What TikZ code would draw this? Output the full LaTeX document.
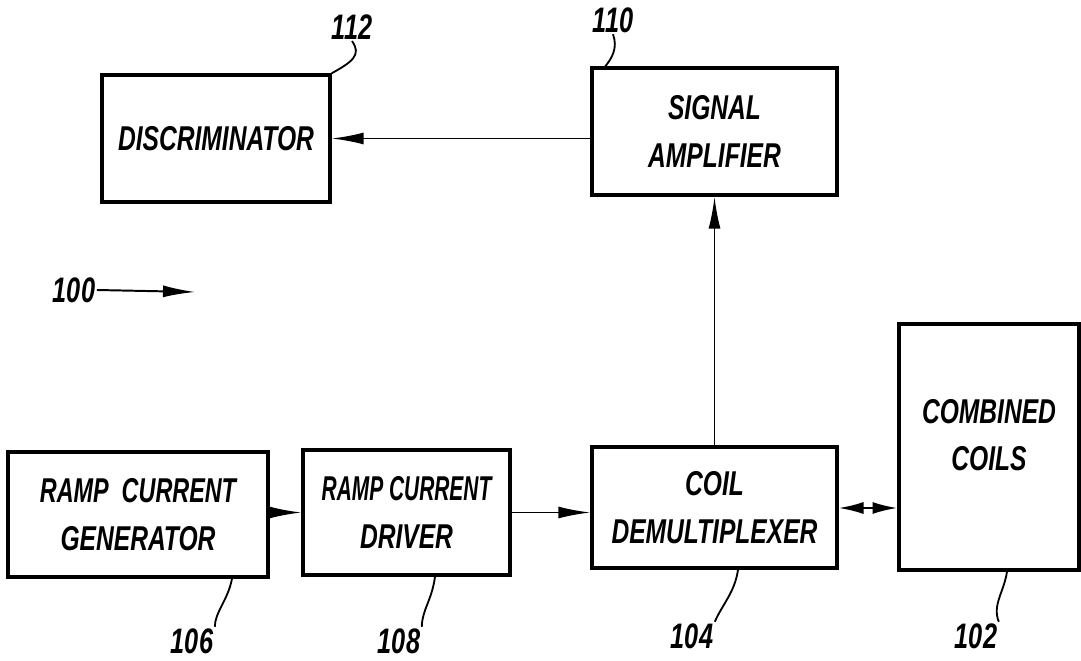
\documentclass[tikz,border=0pt]{standalone}
\usepackage{fontspec}
\setmainfont{Liberation Sans}
\usetikzlibrary{arrows.meta,calc}
\newcommand{\hw}[2][1]{\scalebox{#1}[1.4]{#2}}

\begin{document}
\begin{tikzpicture}[x=0.025cm, y=-0.025cm,
    >={Latex[length=8mm,width=3mm]},
    blk/.style={draw, line width=2.4pt, inner sep=0pt, align=center,
      font=\bfseries\itshape\fontsize{17.5}{34}\selectfont},
    num/.style={font=\bfseries\itshape\fontsize{18}{20}\selectfont, inner sep=1pt},
    lead/.style={line width=1.3pt},
    arr/.style={->, line width=1.4pt}]
  \useasboundingbox (0,0) rectangle (1081,661);
  \node[blk, minimum width=228*0.025cm, minimum height=127*0.025cm] (disc) at (216,138.5) {\hw{DISCRIMINATOR}};
  \node[blk, minimum width=245*0.025cm, minimum height=127*0.025cm] (amp) at (714.5,131.5) {\hw{SIGNAL}\\\hw{AMPLIFIER}};
  \node[blk, minimum width=260*0.025cm, minimum height=125*0.025cm] (gen) at (138,514.5) {\hw[0.95]{RAMP\ \ CURRENT}\\\hw{GENERATOR}};
  \node[blk, minimum width=207*0.025cm, minimum height=125*0.025cm] (drv) at (406.5,512.5) {\hw[0.85]{RAMP CURRENT}\\\hw{DRIVER}};
  \node[blk, minimum width=245*0.025cm, minimum height=121*0.025cm] (demux) at (714.5,507.5) {\hw{COIL}\\\hw{DEMULTIPLEXER}};
  \node[blk, minimum width=180*0.025cm, minimum height=246*0.025cm] (coils) at (989,447) {\hw{COMBINED}\\\hw{COILS}\\[-17pt]};

  % connections
  \draw[arr] (amp.west |- disc.east) -- (disc.east);
  \draw[arr] (demux.north) -- (amp.south);
  \draw[arr] (gen.east |- drv.west) -- (drv.west);
  \draw[arr] (drv.east) -- (demux.west |- drv.east);
  \draw[>={Latex[length=6.2mm,width=3mm]}, <->, line width=1.4pt] (demux.east |- 0,508) -- (coils.west |- 0,508);

  % reference numerals
  \node[num] (n112) at (352,27) {\hw{112}};
  \node[num] (n110) at (613,20) {\hw{110}};
  \node[num] (n106) at (192,641) {\hw{106}};
  \node[num] (n108) at (399,641) {\hw{108}};
  \node[num] (n104) at (692,636) {\hw{104}};
  \node[num] (n102) at (976,636) {\hw{102}};
  \node[num] (n100) at (74,290) {\hw{100}};
  \coordinate (p100) at (195,292);
  \draw[arr] (n100.east) -- (p100);

  \draw[lead] (disc.north east) .. controls (352,62) and (362,55) .. (n112.south);
  \draw[lead] ($(amp.north west)+(15,0)$) .. controls (612,58) and (618,48) .. (n110.south);
  \draw[lead] (gen.south -| 232,0) .. controls (228,600) and (215,612) .. (n106.north east);
  \draw[lead] (drv.south -| 435,0) .. controls (432,600) and (422,610) .. (n108.north east);
  \draw[lead] (demux.south -| 738,0) .. controls (735,592) and (722,605) .. (n104.north east);
  \draw[lead] (coils.south -| 1007,0) .. controls (1004,592) and (992,605) .. (n102.north east);
\end{tikzpicture}
\end{document}
